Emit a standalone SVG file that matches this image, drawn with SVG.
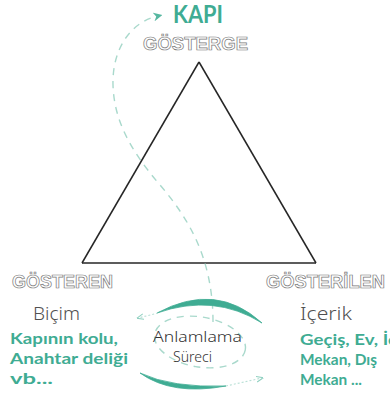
<svg xmlns="http://www.w3.org/2000/svg" width="390" height="399" viewBox="0 0 390 399">
<defs>
<style>
.outline{font-family:"Liberation Sans","DejaVu Sans",sans-serif;font-weight:bold;font-size:18px;fill:#fff;stroke:#7a7a7a;stroke-width:0.7;}
.sub{font-family:"Noto Sans","Open Sans",sans-serif;font-weight:300;font-size:19px;fill:#505050;}
.green{font-family:"Lato","Open Sans",sans-serif;font-weight:bold;font-size:15.5px;fill:#3fac93;}
.mid{font-family:"Noto Sans","Open Sans",sans-serif;font-weight:300;font-size:15px;fill:#333;}
.edge{stroke:#262626;stroke-width:1.5;fill:none;}
.dash{stroke:#a9d9cc;stroke-width:1.4;fill:none;stroke-dasharray:7 6;}
.dot{stroke:#b9e0d6;stroke-width:1.1;fill:none;stroke-dasharray:2 2;}
.arc{fill:#3fac93;}
</style>
<linearGradient id="sep" x1="0" x2="1" y1="0" y2="0">
<stop offset="0" stop-color="#888" stop-opacity="0.1"/>
<stop offset="0.5" stop-color="#444"/>
<stop offset="1" stop-color="#888" stop-opacity="0.1"/>
</linearGradient>
<marker id="kapiArrow" viewBox="0 0 10 10" refX="5" refY="5" markerWidth="9" markerHeight="9" markerUnits="userSpaceOnUse" orient="auto">
<path d="M0 0 L10 5 L0 10 L3 5 Z" fill="#56b7a0"/>
</marker>
<marker id="smallArrow" viewBox="0 0 10 10" refX="8" refY="5" markerWidth="7" markerHeight="7" markerUnits="userSpaceOnUse" orient="auto">
<path d="M0 1 L10 5 L0 9" fill="none" stroke="#8fd0c0" stroke-width="1.5"/>
</marker>
</defs>
<rect width="390" height="399" fill="#fff"/>

<g id="connectors">
<line class="edge" x1="199" y1="62" x2="82" y2="263"/>
<line class="edge" x1="199" y1="62" x2="316" y2="263"/>
<line class="edge" x1="82" y1="263" x2="316" y2="263"/>
<path class="dash" d="M 213 322 C 213 260, 190 220, 160 185 C 130 150, 114 120, 113 85 C 112 50, 130 22, 158 16" marker-end="url(#kapiArrow)"/>
<ellipse class="dash" cx="200" cy="342" rx="46" ry="25" transform="rotate(10 200 342)" stroke-dasharray="6 6" stroke="#c4e5dc"/>
<path class="arc" d="M 157 313 Q 216 281 262 323 Q 214 293 157 313 Z" stroke="#3fac93" stroke-width="0.8"/>
<path class="dot" d="M 158 313 L 138 318" marker-end="url(#smallArrow)"/>
<path class="arc" d="M 140 373 Q 172 396 226 386 Q 172 388 140 373 Z" stroke="#3fac93" stroke-width="0.8"/>
<path class="dot" d="M 226 386 L 262 378" marker-end="url(#smallArrow)"/>
</g>

<g id="kapi">
<text x="173" y="23" font-family="Lato,'Open Sans',sans-serif" font-weight="bold" font-size="24" fill="#3fac93" textLength="50" lengthAdjust="spacingAndGlyphs">KAPI</text>
</g>

<g id="gosterge">
<text class="outline" x="143" y="50" textLength="105" lengthAdjust="spacingAndGlyphs">GÖSTERGE</text>
</g>

<g id="gosteren">
<text class="outline" x="12" y="288" textLength="101" lengthAdjust="spacingAndGlyphs">GÖSTEREN</text>
<line x1="13" y1="297" x2="115" y2="297" stroke="url(#sep)" stroke-width="2"/>
<text class="sub" x="33" y="320" textLength="47" lengthAdjust="spacingAndGlyphs">Biçim</text>
<text class="green" x="10" y="344" textLength="108" lengthAdjust="spacingAndGlyphs">Kapının kolu,</text>
<text class="green" x="10" y="364" textLength="118" lengthAdjust="spacingAndGlyphs">Anahtar deliği</text>
<text class="green" x="10" y="384" textLength="43" lengthAdjust="spacingAndGlyphs">vb...</text>
</g>

<g id="gosterilen">
<text class="outline" x="266" y="288" textLength="119" lengthAdjust="spacingAndGlyphs">GÖSTERİLEN</text>
<line x1="286" y1="297" x2="386" y2="297" stroke="url(#sep)" stroke-width="2"/>
<text class="sub" x="300" y="320" textLength="52" lengthAdjust="spacingAndGlyphs">İçerik</text>
<text class="green" x="300" y="345" textLength="97" lengthAdjust="spacingAndGlyphs">Geçiş, Ev, İç</text>
<text class="green" x="300" y="365" textLength="77" lengthAdjust="spacingAndGlyphs">Mekan, Dış</text>
<text class="green" x="300" y="385" textLength="62" lengthAdjust="spacingAndGlyphs">Mekan ...</text>
</g>

<g id="anlamlama">
<text class="mid" x="153" y="342" textLength="89" lengthAdjust="spacingAndGlyphs">Anlamlama</text>
<text class="mid" x="173" y="362" textLength="39" lengthAdjust="spacingAndGlyphs">Süreci</text>
</g>
</svg>
